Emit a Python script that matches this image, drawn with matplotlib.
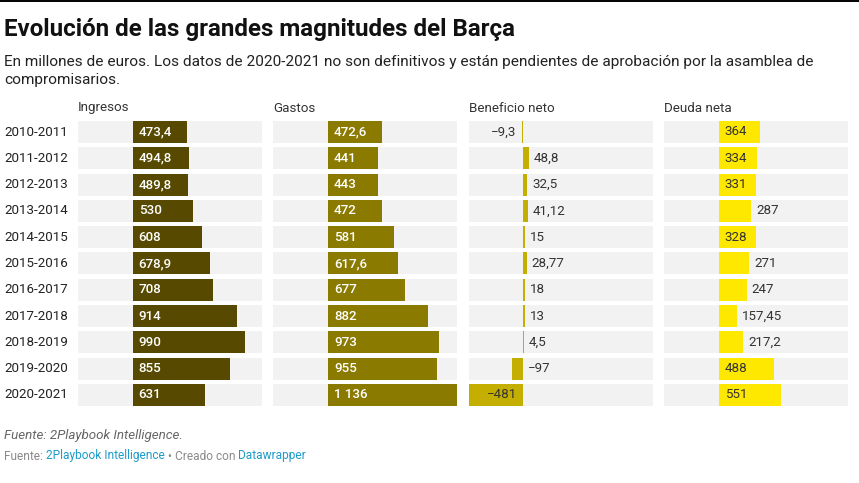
import matplotlib.pyplot as plt
from matplotlib.lines import Line2D
from matplotlib import transforms

plt.rcParams['font.family'] = ['Roboto', 'DejaVu Sans']

years = ["2010-2011", "2011-2012", "2012-2013", "2013-2014", "2014-2015", "2015-2016",
         "2016-2017", "2017-2018", "2018-2019", "2019-2020", "2020-2021"]
ingresos = [473.4, 494.8, 489.8, 530, 608, 678.9, 708, 914, 990, 855, 631]
gastos = [472.6, 441, 443, 472, 581, 617.6, 677, 882, 973, 955, 1136]
beneficio = [-9.3, 48.8, 32.5, 41.12, 15, 28.77, 18, 13, 4.5, -97, -481]
deuda = [364, 334, 331, 287, 328, 271, 247, 157.45, 217.2, 488, 551]

columns = ["Ingresos", "Gastos", "Beneficio neto", "Deuda neta"]
series = [ingresos, gastos, beneficio, deuda]
colors = ["#574a00", "#8a7a00", "#c4ae00", "#ffe800"]
inside_text = ["white", "white", "#333333", "#333333"]

W, H = 859, 483
fig = plt.figure(figsize=(W / 100, H / 100), dpi=100)
renderer = fig.canvas.get_renderer()


def fx(px):
    return px / W


def fy(py):
    return 1 - py / H


def fmt(v):
    s = f"{abs(v):g}"
    if "." in s:
        ip, dp = s.split(".")
    else:
        ip, dp = s, ""
    if len(ip) > 3:
        ip = ip[:-3] + " " + ip[-3:]
    out = ip + ("," + dp if dp else "")
    return ("\u2212" if v < 0 else "") + out


LBL = 9.6

fig.add_artist(Line2D([0, 1], [fy(0.7), fy(0.7)], color="black", lw=1.4))
fig.text(fx(4), fy(36), "Evolución de las grandes magnitudes del Barça",
         fontsize=17.4, fontweight="bold", color="#111111", va="baseline")
fig.text(fx(4), fy(66), "En millones de euros. Los datos de 2020-2021 no son definitivos y están "
         "pendientes de aprobación por la asamblea de", fontsize=11.1, color="#222222", va="baseline")
fig.text(fx(4), fy(84), "compromisarios.", fontsize=11.1, color="#222222", va="baseline")

lo = min(min(s) for s in series)
lo = min(lo, 0)
hi = max(max(s) for s in series)

step = 26.3
top = 132 - step / 2
bar_h = 22 / step
n = len(years)

for i, y in enumerate(years):
    fig.text(fx(4), fy(132 + i * step), y, fontsize=LBL, color="#222222", va="center")

for c, (name, vals, col, tcol) in enumerate(zip(columns, series, colors, inside_text)):
    left = 78 + c * 195.3
    ax = fig.add_axes([fx(left), fy(top + n * step), 184 / W, n * step / H])
    ax.set_xlim(lo, hi)
    ax.set_ylim(n - 0.5, -0.5)
    ax.axis("off")
    ax.barh(range(n), hi - lo, left=lo, height=bar_h, color="#f2f2f2", lw=0)
    ax.barh(range(n), vals, height=bar_h, color=col, lw=0)
    fig.text(fx(left), fy(108), name, fontsize=LBL, color="#333333", va="center")

    px_per_unit = 184 / (hi - lo)
    for i, v in enumerate(vals):
        label = fmt(v)
        t = ax.text(0, i, label, fontsize=LBL, va="center")
        tw = t.get_window_extent(renderer).width
        t.remove()
        bw = abs(v) * px_per_unit
        if bw >= tw + 12:
            color = tcol
            weight = 500 if tcol == "white" else "normal"
            if v >= 0:
                x, dx, ha = 0, 6, "left"
            else:
                x, dx, ha = 0, -6, "right"
        else:
            color, weight = "#333333", "normal"
            if v >= 0:
                x, dx, ha = v, 5, "left"
            elif name == "Beneficio neto" and i == 0:
                x, dx, ha = v, -6, "right"
            else:
                x, dx, ha = 0, 5, "left"
        tr = transforms.offset_copy(ax.transData, fig=fig, x=dx * 0.72, y=0, units="points")
        ax.text(x, i, label, fontsize=LBL, va="center", ha=ha, color=color,
                fontweight=weight, transform=tr)

fig.text(fx(4), fy(436), "Fuente: 2Playbook Intelligence.", fontsize=9.6, style="italic",
         color="#666666", va="center")

pieces = [("Fuente: ", "#8a8a8a"), ("2Playbook Intelligence", "#1d9bc9"),
          (" \u2022 Creado con ", "#8a8a8a"), ("Datawrapper", "#1d9bc9")]
xpos = 4
for txt, col in pieces:
    t = fig.text(fx(xpos), fy(456), txt, fontsize=8.6, color=col, va="center")
    xpos += t.get_window_extent(renderer).width

fig.savefig("out.png", dpi=100)
